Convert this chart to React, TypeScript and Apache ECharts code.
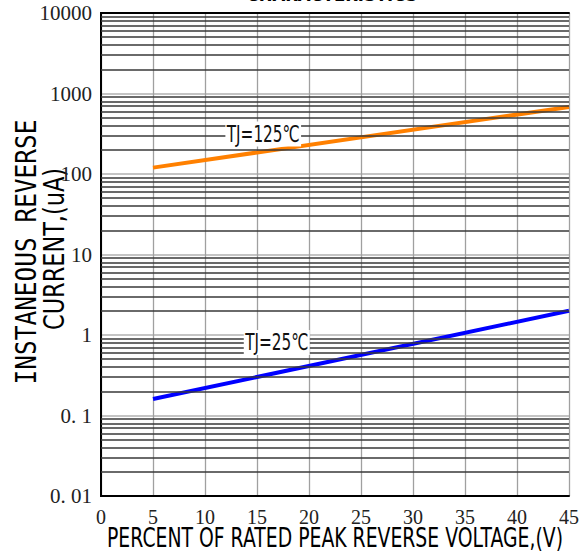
import React, { useEffect, useRef } from "react";
import * as echarts from "echarts";

const xTicks = [0, 5, 10, 15, 20, 25, 30, 35, 40, 45];
const yTickLabels = ["0. 01", "0. 1", "1", "10", "100", "1000", "10000"];
const seriesNames = ["TJ=125℃", "TJ=25℃"];
const tj125Voltage = [5, 45];
const tj125Current = [120, 680];
const tj25Voltage = [5, 45];
const tj25Current = [0.16, 2.0];
const label125Anchor = [15.6, 314];
const label25Anchor = [16.9, 0.807];
const gridDecades = [0.01, 0.1, 1, 10, 100, 1000];
const gridMultipliers = [2, 3, 4, 5, 6, 7, 8, 9];
const titleText = "CHARACTERISTICS";
const xAxisName = "PERCENT OF RATED PEAK REVERSE VOLTAGE,(V)";
const yAxisNameLines = ["INSTANEOUS REVERSE", "CURRENT,(uA)"];

function measure(text: string, font: string): number {
  const ctx = document.createElement("canvas").getContext("2d")!;
  ctx.font = font;
  return ctx.measureText(text).width;
}

export default function App() {
  const ref = useRef<HTMLDivElement>(null);
  useEffect(() => {
    const chart = echarts.init(ref.current!, null, { renderer: "svg" });
    const minorValues: number[] = [];
    gridDecades.forEach((d) => gridMultipliers.forEach((m) => minorValues.push(d * m)));

    const labelFont = '23px "DejaVu Sans"';
    const xNameFont = '26px "DejaVu Sans"';
    const yNameFont = '29px "DejaVu Sans Mono"';
    const yName2Font = '29px "DejaVu Sans"';
    const titleFont = 'bold 20px "DejaVu Sans"';
    const labelScale = 73 / measure(seriesNames[0], labelFont);
    const xNameScale = 456 / measure(xAxisName, xNameFont);
    const yNameScale = 265 / measure(yAxisNameLines[0], yNameFont);
    const yName2Scale = 162 / measure(yAxisNameLines[1], yName2Font);
    const titleScale = 171 / measure(titleText, titleFont);

    const hiddenAxis = {
      axisLabel: { show: false },
      axisTick: { show: false },
      splitLine: { show: false },
      axisLine: { show: true, lineStyle: { color: "#000", width: 2 } },
    };

    chart.setOption({
      animation: false,
      backgroundColor: "#fff",
      grid: { left: 101, top: 13, width: 468, height: 483 },
      xAxis: [
        {
          type: "value",
          min: xTicks[0],
          max: xTicks[xTicks.length - 1],
          interval: 5,
          axisLine: { show: true, lineStyle: { color: "#000", width: 2 } },
          axisTick: { show: false },
          axisLabel: {
            fontFamily: '"Liberation Serif"',
            fontSize: 20,
            color: "#222",
            margin: 11,
          },
          splitLine: { show: true, lineStyle: { color: "#a0a0a0", width: 1.3 } },
        },
        {
          type: "value",
          position: "top",
          min: xTicks[0],
          max: xTicks[xTicks.length - 1],
          interval: 5,
          ...hiddenAxis,
        },
      ],
      yAxis: [
        {
          type: "log",
          logBase: 10,
          min: 0.01,
          max: 10000,
          axisLine: { show: true, lineStyle: { color: "#000", width: 2 } },
          axisTick: { show: false },
          axisLabel: {
            fontFamily: '"Liberation Serif"',
            fontSize: 21,
            color: "#222",
            margin: 9,
            formatter: (v: number) => yTickLabels[Math.round(Math.log10(v)) + 2] ?? "",
          },
          splitLine: { show: true, lineStyle: { color: "#c4c4c4", width: 2 } },
        },
        {
          type: "log",
          logBase: 10,
          min: 0.01,
          max: 10000,
          position: "right",
          ...hiddenAxis,
        },
      ],
      series: [
        {
          type: "line",
          z: 1,
          data: [],
          silent: true,
          markLine: {
            silent: true,
            symbol: "none",
            label: { show: false },
            lineStyle: { color: "#383838", width: 1.6, type: "solid" },
            data: minorValues.map((v) => ({ yAxis: v })),
          },
        },
        {
          name: seriesNames[0],
          type: "line",
          z: 3,
          showSymbol: false,
          lineStyle: { color: "#ff8000", width: 4 },
          itemStyle: { color: "#ff8000" },
          data: tj125Voltage.map((x, i) => [x, tj125Current[i]]),
        },
        {
          name: seriesNames[1],
          type: "line",
          z: 3,
          showSymbol: false,
          lineStyle: { color: "#0000ff", width: 4 },
          itemStyle: { color: "#0000ff" },
          data: tj25Voltage.map((x, i) => [x, tj25Current[i]]),
        },
      ],
    });

    const p125 = chart.convertToPixel({ xAxisIndex: 0, yAxisIndex: 0 }, label125Anchor) as number[];
    const p25 = chart.convertToPixel({ xAxisIndex: 0, yAxisIndex: 0 }, label25Anchor) as number[];

    const labelStyle = (text: string) => ({
      text,
      font: labelFont,
      fill: "#111",
      align: "center",
      verticalAlign: "middle",
      backgroundColor: "#fff",
      padding: [1, 2, 1, 2],
    });

    chart.setOption({
      graphic: [
        {
          type: "text",
          x: 332,
          y: 4,
          scaleX: titleScale,
          style: { text: titleText, font: titleFont, fill: "#000", align: "center", verticalAlign: "bottom" },
        },
        {
          type: "text",
          x: p125[0],
          y: p125[1],
          z: 10,
          scaleX: labelScale,
          style: labelStyle(seriesNames[0]),
        },
        {
          type: "text",
          x: p25[0],
          y: p25[1],
          z: 10,
          scaleX: labelScale,
          style: labelStyle(seriesNames[1]),
        },
        {
          type: "text",
          x: 335,
          y: 538,
          scaleX: xNameScale,
          style: { text: xAxisName, font: xNameFont, fill: "#000", align: "center", verticalAlign: "middle" },
        },
        {
          type: "text",
          x: 25.5,
          y: 252,
          rotation: Math.PI / 2,
          scaleX: yNameScale,
          style: { text: yAxisNameLines[0], font: yNameFont, fill: "#000", align: "center", verticalAlign: "middle" },
        },
        {
          type: "text",
          x: 53.5,
          y: 249,
          rotation: Math.PI / 2,
          scaleX: yName2Scale,
          style: { text: yAxisNameLines[1], font: yName2Font, fill: "#000", align: "center", verticalAlign: "middle" },
        },
      ],
    });

    return () => chart.dispose();
  }, []);
  return (
    <div
      ref={ref}
      style={{ position: "absolute", left: 0, top: 0, width: 587, height: 556 }}
    />
  );
}
